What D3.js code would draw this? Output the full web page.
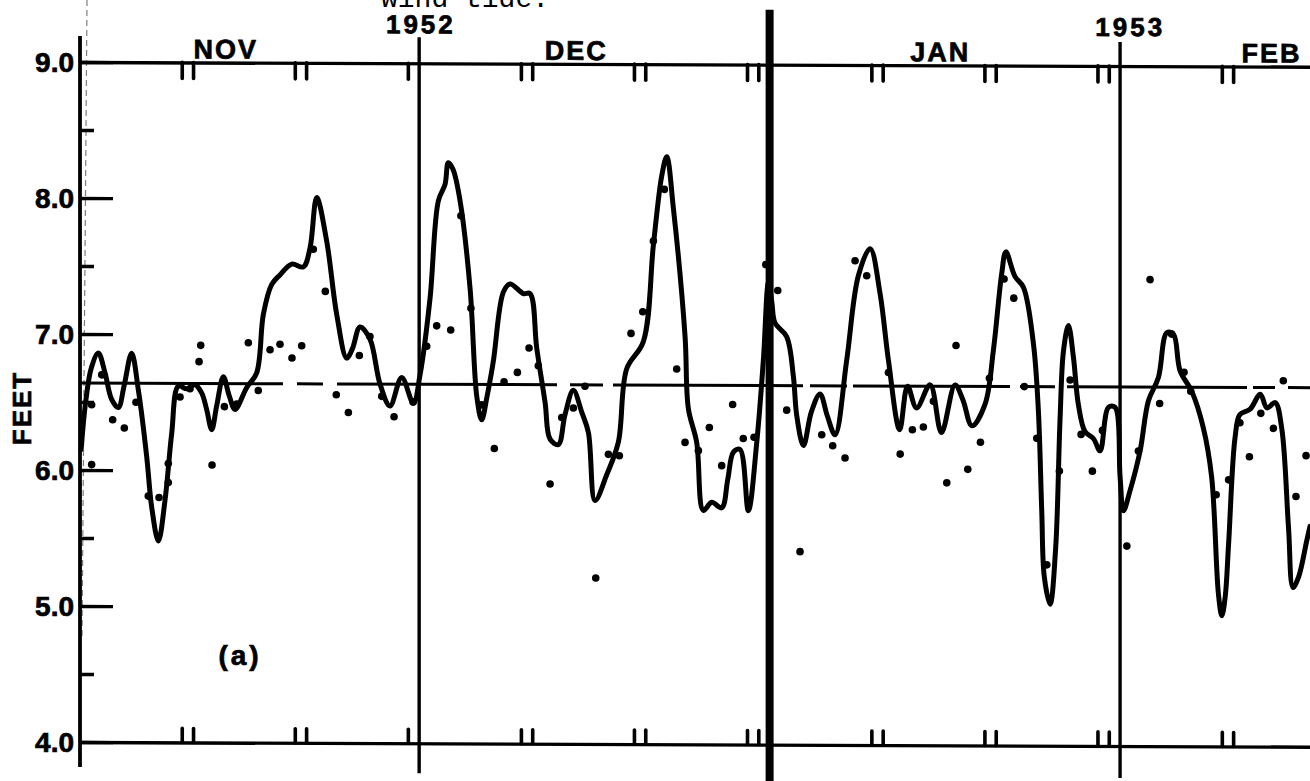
<!doctype html>
<html>
<head>
<meta charset="utf-8">
<style>
    body { margin: 0; background: #fff; }
    svg { display: block; background: #fff; }
    .lbl { font-family: "Liberation Sans", Arial, sans-serif; font-weight: bold; fill: #000; stroke: #000; stroke-width: 0.7px; }
    .tw { font-family: "Liberation Mono", "Courier New", monospace; fill: #000; }
</style>
<script src="https://d3js.org/d3.v7.min.js"></script>
</head>
<body>
<svg width="1310" height="781" class="chart"></svg>
<script>
// days counted from 1 Nov 1952 (0 = midnight, Nov 1)
var months = ["NOV", "DEC", "JAN", "FEB"];
var years = ["1952", "1953"];
var yTicks = [4.0, 4.5, 5.0, 5.5, 6.0, 6.5, 7.0, 7.5, 8.0, 8.5, 9.0];
var yTickLabels = ["4.0", "5.0", "6.0", "7.0", "8.0", "9.0"];
var meanFeet = 6.64;

// smoothed curve (feet)
var curveDay = [0.1, 0.5, 1.0, 1.62, 2.2, 2.8, 3.39, 3.9, 4.57, 5.16, 5.9, 6.34, 6.93, 7.52, 8.11, 8.7,
    9.44, 10.17, 10.76, 11.2, 11.65, 12.1, 12.68, 13.2, 13.71, 14.74, 15.63, 16.22, 16.96, 17.69,
    18.73, 19.76, 20.35, 20.94, 21.82, 22.71, 23.59, 24.1, 24.77, 25.65, 26.54, 27.42, 28.46, 29.49,
    30.08, 30.96, 31.7, 32.29, 32.58, 33.0, 33.62, 34.5, 35.1, 35.53, 36.0, 36.56, 37.45, 38.04,
    39.22, 39.81, 40.4, 41.14, 41.58, 42.31, 42.9, 43.64, 44.38, 44.97, 45.56, 46.59, 47.62, 48.36,
    49.83, 50.72, 51.46, 51.9, 52.49, 53.52, 53.81, 54.55, 55.14, 55.88, 56.76, 57.3, 57.8, 58.38,
    59.12, 59.86, 60.45, 60.9, 61.2, 61.48, 62.51, 63.1, 63.4, 63.99, 64.7, 65.46, 66.1, 66.79,
    67.82, 68.85, 69.89, 70.77, 71.51, 72.5, 73.2, 74.0, 75.2, 76.2, 77.4, 78.1, 78.9, 80.06, 80.8,
    81.53, 81.9, 82.7, 83.45, 84.33, 84.77, 85.07, 85.3, 85.81, 86.3, 86.69, 86.99, 87.43, 87.87,
    88.31, 88.9, 89.64, 90.23, 90.97, 91.56, 92.0, 92.3, 92.89, 93.77, 94.51, 95.39, 96.13, 96.72,
    97.31, 98.34, 99.37, 100.1, 100.7, 101.0, 101.3, 101.6, 102.17, 102.6, 103.5, 104.4, 104.99,
    105.72, 106.3, 106.9, 107.3, 107.8, 108.5, 108.8];
var curveFeet = [6.15, 6.50, 6.75, 6.86, 6.72, 6.52, 6.46, 6.62, 6.86, 6.59, 6.10, 5.73, 5.48, 5.78, 6.27, 6.62,
    6.60, 6.63, 6.57, 6.45, 6.30, 6.48, 6.69, 6.55, 6.45, 6.61, 6.72, 7.15, 7.37, 7.44,
    7.52, 7.50, 7.64, 8.01, 7.69, 7.15, 6.83, 6.90, 7.06, 6.97, 6.64, 6.48, 6.69, 6.50,
    6.71, 7.27, 7.99, 8.11, 8.27, 8.22, 7.99, 7.35, 6.55, 6.38, 6.55, 6.81, 7.32, 7.38,
    7.31, 7.31, 6.91, 6.51, 6.24, 6.20, 6.42, 6.60, 6.44, 6.29, 5.79, 5.98, 6.22, 6.76,
    6.96, 7.67, 8.18, 8.32, 7.94, 7.00, 6.47, 6.22, 5.72, 5.78, 5.74, 5.95, 6.15, 6.17,
    5.72, 6.22, 6.83, 7.40, 7.25, 7.10, 7.00, 6.71, 6.42, 6.20, 6.45, 6.58, 6.42, 6.28,
    6.83, 7.45, 7.65, 7.32, 6.83, 6.32, 6.64, 6.48, 6.65, 6.30, 6.65, 6.54, 6.35, 6.51, 6.91,
    7.47, 7.63, 7.45, 7.37, 6.96, 6.47, 5.73, 5.24, 5.04, 5.45, 6.40, 6.90, 7.09, 6.86,
    6.51, 6.31, 6.26, 6.17, 6.49, 6.49, 5.98, 5.73, 5.88, 6.17, 6.54, 6.71, 7.04, 7.03,
    6.76, 6.61, 6.34, 5.98, 5.12, 4.96, 5.10, 5.49, 6.27, 6.44, 6.48, 6.59, 6.49,
    6.53, 6.34, 5.61, 5.17, 5.25, 5.51, 5.62];

// observed points (feet)
var dotDay = [1.03, 1.03, 1.92, 2.89, 3.92, 4.95, 6.04, 6.99, 7.81, 7.81, 8.85, 9.73, 10.53, 10.68, 11.68,
    12.77, 13.86, 14.89, 15.77, 16.81, 17.69, 18.75, 19.61, 20.64, 21.70, 22.67, 23.74, 24.71, 25.65,
    26.69, 27.78, 29.46, 30.67, 31.55, 32.79, 33.69, 34.58, 35.53, 36.65, 37.51, 38.69, 39.72, 40.54,
    41.58, 42.61, 43.64, 44.67, 45.62, 46.74, 47.71, 48.74, 49.78, 50.72, 51.69, 52.78, 53.52, 54.70,
    55.67, 56.76, 57.73, 58.67, 59.62, 60.66, 61.72, 62.51, 63.69, 65.61, 66.58, 67.67, 68.56, 69.59,
    71.51, 72.55, 73.63, 74.60, 75.49, 76.67, 77.49, 78.53, 79.65, 80.44, 81.74, 82.60, 83.53, 84.63,
    85.52, 86.63, 87.58, 88.55, 89.55, 90.44, 92.60, 93.62, 94.65, 95.50, 96.56, 97.66, 98.25,
    100.50, 101.60, 102.60, 103.44, 104.45, 105.56, 106.44, 107.56, 108.45];
var dotFeet = [6.48, 6.04, 6.70, 6.37, 6.31, 6.50, 5.81, 5.80, 6.05, 5.91, 6.54, 6.60, 6.80, 6.92, 6.04,
    6.47, 6.49, 6.94, 6.59, 6.89, 6.93, 6.83, 6.92, 7.63, 7.32, 6.56, 6.43, 6.85, 6.99,
    6.55, 6.40, 6.51, 6.92, 7.07, 7.04, 7.88, 7.20, 6.49, 6.17, 6.66, 6.73, 6.91, 6.78,
    5.91, 6.40, 6.47, 6.63, 5.22, 6.13, 6.12, 7.02, 7.18, 7.70, 8.08, 6.76, 6.22, 6.16,
    6.33, 6.05, 6.50, 6.25, 6.26, 7.53, 7.34, 6.46, 5.42, 6.28, 6.20, 6.11, 7.56, 7.45,
    6.74, 6.14, 6.32, 6.34, 6.53, 5.93, 6.94, 6.03, 6.23, 6.70, 7.43, 7.29, 6.64, 6.26,
    5.33, 6.02, 6.69, 6.29, 6.02, 6.32, 5.47, 6.17, 7.43, 6.52, 7.03, 6.75, 6.61,
    5.85, 5.96, 6.38, 6.13, 6.45, 6.34, 6.69, 5.84, 6.14];

var start = new Date(Date.UTC(1952, 10, 1));
function atDay(d) { return new Date(start.getTime() + d * 864e5); }

var svg = d3.select(".chart"),
    width = 1230,
    height = 680;

// the scan is a little tilted
var g = svg.append("g")
    .attr("transform", "translate(80,62) skewY(0.22)");

var x = d3.scaleUtc().domain([start, atDay(108.8)]).range([0, width]),
    y = d3.scaleLinear().domain([4, 9]).range([height, 0]);

var monthStarts = d3.utcMonth.range(start, atDay(109));   // Nov 1, Dec 1, Jan 1, Feb 1

// double ticks on the 10-day marks
var dayTicks = [];
monthStarts.forEach(function(m) {
    var next = d3.utcMonth.offset(m, 1);
    [9, 10, 19, 20, 29, 30].forEach(function(k) {
        var t = d3.utcDay.offset(m, k);
        if (t < next && t <= x.domain()[1]) dayTicks.push(t);
    });
});

g.append("g")
    .call(d3.axisBottom(x).tickValues(dayTicks).tickFormat("").tickSizeInner(16).tickSizeOuter(0))
    .call(function(a) {
        a.select(".domain").attr("stroke-width", 3.4);
        a.selectAll(".tick line").attr("stroke-width", 3.6).attr("stroke-linecap", "round");
    });

g.append("g")
    .attr("transform", "translate(0," + height + ")")
    .call(d3.axisTop(x).tickValues(dayTicks).tickFormat("").tickSizeInner(14).tickSizeOuter(0))
    .call(function(a) {
        a.select(".domain").attr("stroke-width", 3.4);
        a.selectAll(".tick line").attr("stroke-width", 3.6).attr("stroke-linecap", "round");
    });

g.append("g")
    .call(d3.axisRight(y).tickValues(yTicks).tickFormat("").tickSizeOuter(0))
    .call(function(a) {
        a.select(".domain").remove();
        a.selectAll(".tick line")
            .attr("stroke-width", 3.4)
            .attr("x2", function(d) { return d % 1 === 0 ? 33 : 14; });
    });

// y axis spine
g.append("line")
    .attr("x1", 0).attr("x2", 0)
    .attr("y1", -26).attr("y2", 705)
    .attr("stroke", "#000").attr("stroke-width", 3.8);

// month dividers, year boundary drawn heavy
var dividers = [
    {date: monthStarts[1], top: -26, bottom: 710, w: 3.4},
    {date: monthStarts[2], top: -55, bottom: 722, w: 8},
    {date: monthStarts[3], top: -24, bottom: 712, w: 3.4}
];
g.selectAll(".divider")
    .data(dividers)
    .enter().append("line")
    .attr("class", "divider")
    .attr("x1", function(d) { return x(d.date); })
    .attr("x2", function(d) { return x(d.date); })
    .attr("y1", function(d) { return d.top; })
    .attr("y2", function(d) { return d.bottom; })
    .attr("stroke", "#000")
    .attr("stroke-width", function(d) { return d.w; });

// mean level, hand-drawn dashes
g.append("line")
    .attr("x1", 0).attr("x2", width)
    .attr("y1", y(meanFeet)).attr("y2", y(meanFeet))
    .attr("stroke", "#000")
    .attr("stroke-width", 3)
    .attr("stroke-dasharray", "203,14,26,14,220,13,33,10,190,7,37,6,157,10,35,12,180,6,22,13,40");

var curve = curveDay.map(function(d, i) { return [d, curveFeet[i]]; });
var line = d3.line()
    .x(function(d) { return x(atDay(d[0])); })
    .y(function(d) { return y(d[1]); })
    .curve(d3.curveCatmullRom.alpha(0.5));

g.append("path")
    .datum(curve)
    .attr("d", line)
    .attr("fill", "none")
    .attr("stroke", "#000")
    .attr("stroke-width", 5)
    .attr("stroke-linejoin", "round")
    .attr("stroke-linecap", "round");

g.selectAll(".dot")
    .data(dotDay)
    .enter().append("circle")
    .attr("class", "dot")
    .attr("cx", function(d) { return x(atDay(d)); })
    .attr("cy", function(d, i) { return y(dotFeet[i]); })
    .attr("r", 3.8)
    .attr("fill", "#000");

// month names and years along the top
var monthLabelDay = [12.9, 43.9, 76.1, 105.4];
g.selectAll(".month")
    .data(months)
    .enter().append("text")
    .attr("class", "lbl month")
    .attr("x", function(d, i) { return x(atDay(monthLabelDay[i])); })
    .attr("y", -4)
    .attr("text-anchor", "middle")
    .attr("font-size", "27px")
    .attr("letter-spacing", "2px")
    .text(function(d) { return d; });

var yearLabelDay = [30.15, 92.9];
g.selectAll(".year")
    .data(years)
    .enter().append("text")
    .attr("class", "lbl year")
    .attr("x", function(d, i) { return x(atDay(yearLabelDay[i])); })
    .attr("y", -30)
    .attr("text-anchor", "middle")
    .attr("font-size", "26px")
    .attr("letter-spacing", "3px")
    .text(function(d) { return d; });

// y labels
svg.selectAll(".ylab")
    .data(yTickLabels)
    .enter().append("text")
    .attr("class", "lbl ylab")
    .attr("x", 74)
    .attr("y", function(d) { return 62 + y(+d); })
    .attr("dy", "0.36em")
    .attr("text-anchor", "end")
    .attr("font-size", "28px")
    .text(function(d) { return d; });

svg.append("text")
    .attr("class", "lbl")
    .attr("transform", "translate(22,408) rotate(-90)")
    .attr("text-anchor", "middle")
    .attr("dy", "0.36em")
    .attr("font-size", "26px")
    .attr("letter-spacing", "2px")
    .text("FEET");

svg.append("text")
    .attr("class", "lbl")
    .attr("x", 240)
    .attr("y", 665)
    .attr("text-anchor", "middle")
    .attr("font-size", "28px")
    .attr("letter-spacing", "3px")
    .text("(a)");

// caption line cut off by the crop
svg.append("text")
    .attr("class", "tw")
    .attr("x", 381)
    .attr("y", 7)
    .attr("font-size", "28px")
    .text("wind tide.");

// faint fold mark beside the axis
svg.append("line")
    .attr("x1", 87).attr("y1", 0)
    .attr("x2", 82).attr("y2", 640)
    .attr("stroke", "#000")
    .attr("stroke-width", 1.2)
    .attr("stroke-dasharray", "6,4")
    .attr("opacity", 0.5);
</script>
</body>
</html>
